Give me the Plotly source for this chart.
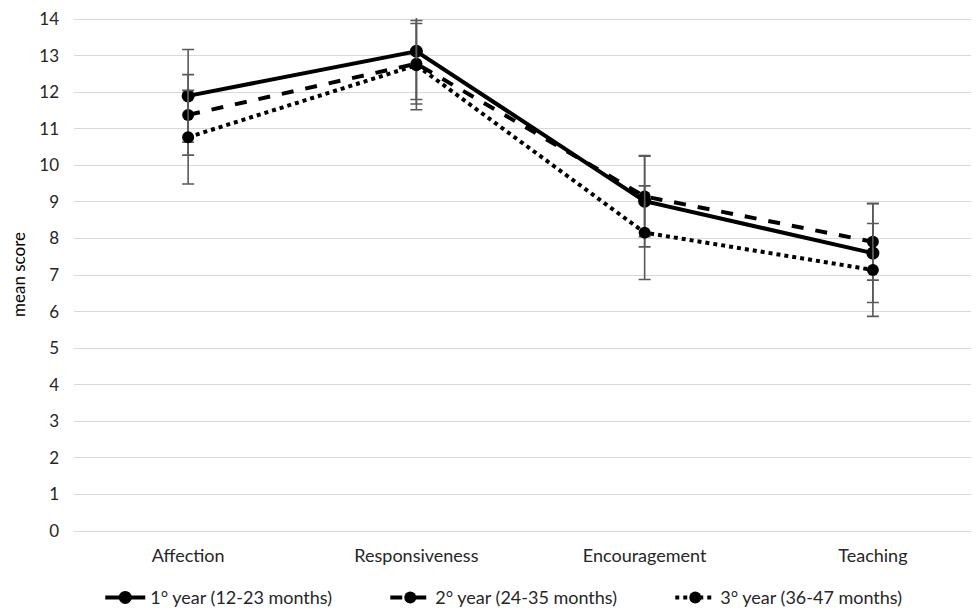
import plotly.graph_objects as go

categories = ["Affection", "Responsiveness", "Encouragement", "Teaching"]
series_names = ["1° year (12-23 months)", "2° year (24-35 months)", "3° year (36-47 months)"]
year1 = [11.9, 13.12, 9.02, 7.6]
year1_err = [1.27, 1.32, 1.25, 1.35]
year2 = [11.38, 12.78, 9.15, 7.91]
year2_err = [1.1, 1.1, 1.1, 1.05]
year3 = [10.77, 12.74, 8.16, 7.14]
year3_err = [1.28, 1.22, 1.28, 1.27]

values = [year1, year2, year3]
errors = [year1_err, year2_err, year3_err]
dashes = ["solid", "dash", "dot"]
msizes = [13, 12, 12]

fig = go.Figure()
for name, v, e, d, ms in zip(series_names, values, errors, dashes, msizes):
    fig.add_trace(go.Scatter(
        x=categories, y=v, name=name, mode="lines+markers",
        line=dict(color="black", width=4, dash=d),
        marker=dict(color="black", size=ms, symbol="circle"),
        error_y=dict(type="data", array=e, visible=True, color="#595959", thickness=1.6, width=6),
    ))

font = "Lato, 'Open Sans', sans-serif"
txt = "#262626"
fig.update_layout(
    width=979, height=610,
    margin=dict(l=66, r=0, t=10, b=87),
    paper_bgcolor="white", plot_bgcolor="white",
    font=dict(family=font, size=17, color=txt),
    showlegend=True,
    legend=dict(orientation="h", x=0.497, xanchor="center", y=-0.13, yanchor="middle",
                font=dict(size=18, color=txt), entrywidth=230, entrywidthmode="pixels",
                itemwidth=40, tracegroupgap=0),
    xaxis=dict(type="category", range=[-0.5, 3.5], showgrid=False, showline=False,
               ticks="", automargin=False, ticklabelstandoff=12,
               tickfont=dict(size=18, color=txt)),
    yaxis=dict(range=[0, 14.03], dtick=1, showgrid=True, gridcolor="#d9d9d9", gridwidth=1,
               zeroline=True, zerolinecolor="#d9d9d9", zerolinewidth=1, showline=False,
               ticks="", automargin=False, ticklabelstandoff=14, ticklabeloverflow="allow",
               tickfont=dict(size=17, color=txt),
               title=dict(text="mean score", font=dict(size=17, color="black"), standoff=20)),
)

fig.write_html("out.html")
